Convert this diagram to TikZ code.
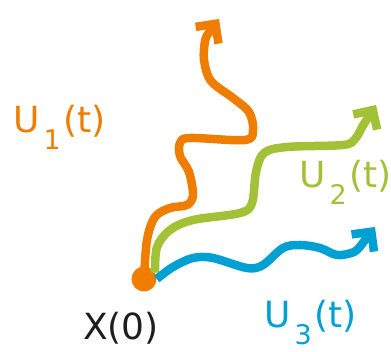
\documentclass[tikz,border=0pt]{standalone}
\usepackage{fontspec}
\setmainfont{DejaVu Sans}
\usetikzlibrary{arrows.meta}
\newcommand\Ulabel[1]{U\kern4pt\raisebox{-17pt}{\fontsize{27}{27}\selectfont #1}\kern3pt(t)}

\begin{document}
\begin{tikzpicture}[x=1pt, y=1pt, >={Straight Barb[angle=90:20pt]}, walk/.style={->, line width=8.5pt, line join=round, smooth, tension=0.55}, lab/.style={anchor=base west, inner sep=0pt, font=\fontsize{36}{36}\selectfont}]
\definecolor{Orng}{HTML}{EF7D00}\definecolor{Lime}{HTML}{A3C136}\definecolor{Cyan}{HTML}{00A0D3}\definecolor{Ink}{HTML}{1E1E1E}
\useasboundingbox (0,0) rectangle (391,352);
\node[circle, fill=Orng, minimum size=25pt, inner sep=0pt] (x0) at (144,73) {};
\coordinate (end1) at (219,333); \coordinate (end2) at (376,247); \coordinate (end3) at (375,125);
% the three paths out of X(0)
\draw[walk, Orng] plot coordinates {(x0.center) (147,112) (155,135) (170,144) (187,147) (193,157) (189,180) (180,196) (180,209) (190,214) (245,212) (253,222) (249,240) (233,254) (211,271) (204,292) (205,311) (208,318)} -- (end1);
\draw[walk, Lime] plot coordinates {(x0.30) (157,105) (170,122) (193,132) (240,139) (252,149) (256,180) (264,199) (287,205) (343,207) (355,213) (362,225)} -- (end2);
\draw[walk, Cyan] plot coordinates {(x0.east) (173,85) (193,94) (213,94) (247,84) (263,87) (283,104) (300,107) (320,104) (337,97) (354,100) (362,108)} -- (end3);
% labels
\node[lab, Orng] (u1) at (13,219) {\Ulabel{1}};
\node[lab, Lime] (u2) at (299,164) {\Ulabel{2}};
\node[lab, Cyan] (u3) at (264,24) {\Ulabel{3}};
\node[lab, Ink] (x0lab) at (83,12) {X(0)};
\end{tikzpicture}
\end{document}
